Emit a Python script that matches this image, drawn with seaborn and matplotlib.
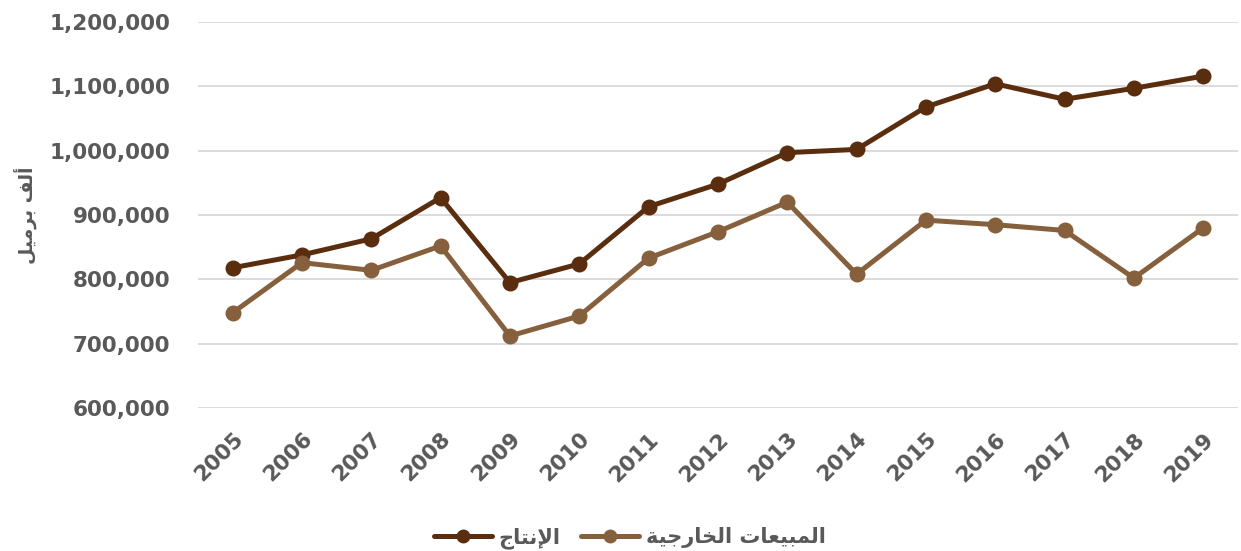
import numpy as np
import pandas as pd
import seaborn as sns
import matplotlib.pyplot as plt

# Data (thousand barrels)
YEARS = [2005, 2006, 2007, 2008, 2009, 2010, 2011, 2012, 2013, 2014, 2015, 2016, 2017, 2018, 2019]
PRODUCTION = [818000, 838000, 863000, 927000, 795000, 824000, 913000, 948000, 997000, 1002000,
              1068000, 1104000, 1080000, 1097000, 1116000]
EXPORTS = [748000, 826000, 814000, 852000, 712000, 743000, 833000, 874000, 920000, 808000,
           892000, 885000, 876000, 802000, 880000]

# Arabic labels written in presentation forms, visual order (matplotlib has no shaping)
LBL_PRODUCTION = "\uFE9D\uFE8E\uFE98\uFEE7\uFEF9\uFE8D"            # الإنتاج
LBL_EXPORTS = ("\uFE94\uFEF4\uFE9F\uFEAD\uFE8E\uFEA8\uFEDF\uFE8D"
               " "
               "\uFE95\uFE8E\uFECC\uFEF4\uFE92\uFEE4\uFEDF\uFE8D")   # المبيعات الخارجية
LBL_YAXIS = "\uFEDE\uFEF4\uFEE3\uFEAE\uFE91 \uFED2\uFEDF\uFE83"       # ألف برميل

DARK = "#5A2D0F"
LIGHT = "#86603D"
TEXT = "#595959"
GRID = "#D9D9D9"


def main():
  df = pd.DataFrame({"Year": YEARS, LBL_PRODUCTION: PRODUCTION, LBL_EXPORTS: EXPORTS})
  long = df.melt(id_vars="Year", var_name="Series", value_name="Value")

  sns.set_style("white")
  plt.rcParams["font.family"] = ["DejaVu Sans"]

  fig = plt.figure(figsize=(12.41, 5.51), dpi=100)
  ax = fig.add_axes([0.1595, 0.2595, 0.838, 0.7005])

  sns.lineplot(data=long, x="Year", y="Value", hue="Series",
               hue_order=[LBL_PRODUCTION, LBL_EXPORTS],
               palette=[DARK, LIGHT], marker="o", markersize=11.5,
               markeredgewidth=0, linewidth=3.6, ax=ax)

  ax.set_ylim(600000, 1200000)
  ax.set_yticks(np.arange(600000, 1200001, 100000))
  ax.set_yticklabels([f"{v:,}" for v in range(600000, 1200001, 100000)])
  ax.set_xlim(2004.5, 2019.5)
  ax.set_xticks(YEARS)
  ax.set_xticklabels([str(y) for y in YEARS], rotation=45, ha="right", rotation_mode="anchor")

  for lbl in ax.get_yticklabels() + ax.get_xticklabels():
    lbl.set_fontsize(15.5)
    lbl.set_fontweight("bold")
    lbl.set_color(TEXT)

  ax.tick_params(axis="y", length=0, pad=20)
  ax.tick_params(axis="x", length=0, pad=15)
  ax.grid(axis="y", color=GRID, linewidth=1.3)
  ax.set_axisbelow(True)
  for s in ax.spines.values():
    s.set_visible(False)

  ax.set_xlabel("")
  ax.set_ylabel(LBL_YAXIS, fontsize=13.5, fontweight="bold", color=TEXT, labelpad=9)

  leg = ax.legend(loc="upper center", bbox_to_anchor=(0.415, -0.26), ncol=2, frameon=False,
                  fontsize=15, handlelength=2.8, columnspacing=1.0, handletextpad=0.3)
  for t in leg.get_texts():
    t.set_fontweight("bold")
    t.set_color(TEXT)
  for h in leg.legend_handles:
    h.set_markersize(10)

  fig.savefig("out.png", dpi=100)


if __name__ == "__main__":
  main()
